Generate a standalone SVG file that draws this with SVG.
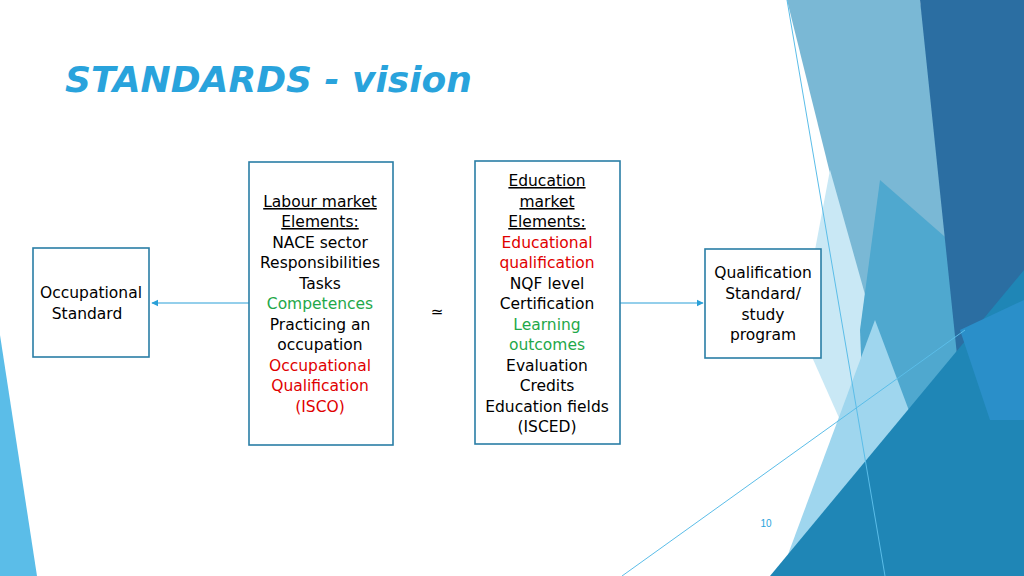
<svg xmlns="http://www.w3.org/2000/svg" width="1024" height="576" viewBox="0 0 1024 576">
<style>
text{font-family:"DejaVu Sans","Liberation Sans",sans-serif;font-size:15.5px;fill:#000;text-anchor:middle}
.box{fill:#fff;stroke:#2a7ea6;stroke-width:1.6}
.r{fill:#e00000}.g{fill:#1fa84a}
.u{text-decoration:underline}
.c{stroke:#2aa0d8;stroke-width:1.2;fill:none}
</style>
<defs><marker id="a" viewBox="0 0 10 10" refX="9" refY="5" markerWidth="6" markerHeight="6" orient="auto"><path d="M0,0L10,5L0,10z" fill="#2aa0d8"/></marker></defs>
<rect width="1024" height="576" fill="#fff"/>
<g id="decor">
<polygon points="0,335 37,576 0,576" fill="#5bbde8"/>
<polygon points="787,0 920,0 1010,576 930,576" fill="#7ab8d5"/>
<polygon points="830,170 875,330 840,420 800,330" fill="#c9e8f5"/>
<polygon points="880,180 960,250 1000,576 870,576 860,330" fill="#4fa8cf"/>
<polygon points="920,0 1024,0 1024,576 980,576" fill="#2b6ea2"/>
<polygon points="875,320 920,440 880,576 780,576" fill="#9fd6ee"/>
<polygon points="770,576 1024,270 1024,576" fill="#1f86b6"/>
<polygon points="960,330 1024,300 1024,420 990,420" fill="#2a8fc9"/>
<line x1="787" y1="0" x2="885" y2="576" stroke="#5bbde8" stroke-width="1"/>
<line x1="622" y1="576" x2="965" y2="330" stroke="#5bbde8" stroke-width="1"/>
</g>
<text x="65" y="92" style="font-size:36px;font-weight:bold;font-style:italic;fill:#29a3dc;text-anchor:start">STANDARDS - vision</text>
<g id="connectors">
<line class="c" x1="249" y1="303" x2="152" y2="303" marker-end="url(#a)"/>
<line class="c" x1="620" y1="303" x2="703" y2="303" marker-end="url(#a)"/>
</g>
<g id="occ"><rect class="box" x="33" y="248" width="116" height="109"/>
<text x="91" y="298">Occupational</text><text x="87" y="319">Standard</text></g>
<g id="labour"><rect class="box" x="249" y="162" width="144" height="283"/>
<text x="320" y="207" class="u">Labour market</text>
<text x="320" y="227" class="u">Elements:</text>
<text x="320" y="248">NACE sector</text>
<text x="320" y="268">Responsibilities</text>
<text x="320" y="289">Tasks</text>
<text x="320" y="309" class="g">Competences</text>
<text x="320" y="330">Practicing an</text>
<text x="320" y="350">occupation</text>
<text x="320" y="371" class="r">Occupational</text>
<text x="320" y="391" class="r">Qualification</text>
<text x="320" y="412" class="r">(ISCO)</text></g>
<text x="437" y="317" style="font-size:15px">≃</text>
<g id="edu"><rect class="box" x="475" y="161" width="145" height="283"/>
<text x="547" y="186" class="u">Education</text>
<text x="547" y="207" class="u">market</text>
<text x="547" y="227" class="u">Elements:</text>
<text x="547" y="248" class="r">Educational</text>
<text x="547" y="268" class="r">qualification</text>
<text x="547" y="289">NQF level</text>
<text x="547" y="309">Certification</text>
<text x="547" y="330" class="g">Learning</text>
<text x="547" y="350" class="g">outcomes</text>
<text x="547" y="371">Evaluation</text>
<text x="547" y="391">Credits</text>
<text x="547" y="412">Education fields</text>
<text x="547" y="432">(ISCED)</text></g>
<g id="qual"><rect class="box" x="705" y="249" width="116" height="109"/>
<text x="763" y="278">Qualification</text><text x="763" y="299">Standard/</text>
<text x="763" y="320">study</text><text x="763" y="340">program</text></g>
<text x="766" y="527" style="font-size:10px;fill:#29a3dc;font-family:'Liberation Sans',sans-serif">10</text>
</svg>
